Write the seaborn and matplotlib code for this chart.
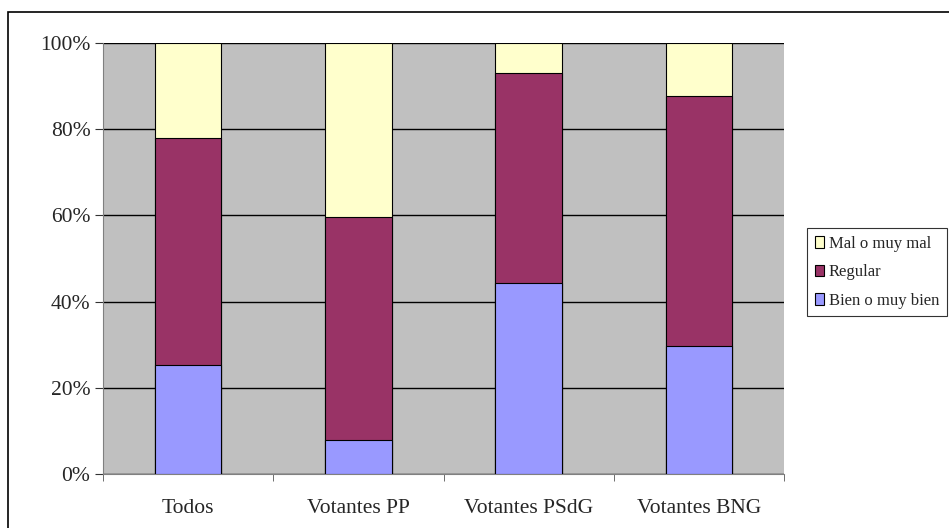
import matplotlib
matplotlib.use('Agg')
import matplotlib.pyplot as plt
import seaborn as sns
import pandas as pd
import numpy as np
from matplotlib.patches import Rectangle, Patch
from matplotlib.ticker import FixedLocator

grupos = ['Todos', 'Votantes PP', 'Votantes PSdG', 'Votantes BNG']
bien = [25.3, 7.8, 44.2, 29.8]
regular = [52.6, 51.9, 48.8, 57.9]
mal = [22.1, 40.3, 7.0, 12.3]

colores = {'Bien o muy bien': '#9999FF', 'Regular': '#993366', 'Mal o muy mal': '#FFFFCC'}

df = pd.DataFrame({'grupo': grupos, 'bien': bien, 'regular': regular, 'mal': mal})
df['c1'] = df['bien']
df['c2'] = df['bien'] + df['regular']
df['c3'] = df['c2'] + df['mal']

sns.set_style('white')
plt.rcParams['font.family'] = ['Liberation Serif', 'DejaVu Serif']

fig = plt.figure(figsize=(9.49, 5.28), dpi=100)
ax = fig.add_axes([103 / 949, 1 - 474 / 528, (784 - 103) / 949, (474 - 43) / 528])
ax.set_facecolor('#C0C0C0')

# stacked bars drawn back to front
for col, lab in [('c3', 'Mal o muy mal'), ('c2', 'Regular'), ('c1', 'Bien o muy bien')]:
    sns.barplot(data=df, x='grupo', y=col, color=colores[lab], width=0.39,
                edgecolor='black', linewidth=0.8, saturation=1, ax=ax, zorder=3)

ax.set_ylim(0, 100)
ax.set_xlim(-0.5, 3.5)
ax.set_yticks([0, 20, 40, 60, 80, 100])
ax.set_yticklabels(['0%', '20%', '40%', '60%', '80%', '100%'], fontsize=15.5)
ax.yaxis.grid(True, color='black', linewidth=1, zorder=0)
ax.set_axisbelow(True)
ax.tick_params(axis='y', length=6, color='#333333', left=True, pad=3)
ax.tick_params(axis='x', which='major', length=0, labelsize=15.5, pad=18)
ax.xaxis.set_minor_locator(FixedLocator([-0.5, 0.5, 1.5, 2.5, 3.5]))
ax.tick_params(axis='x', which='minor', length=5, bottom=True, color='#555555')
ax.set_xlabel('')
ax.set_ylabel('')
for s in ax.spines.values():
    s.set_visible(False)
ax.spines['left'].set_visible(True)
ax.spines['left'].set_color('#808080')
ax.spines['bottom'].set_visible(True)
ax.spines['bottom'].set_color('#808080')

handles = [Patch(facecolor=colores[k], edgecolor='black', linewidth=0.8)
           for k in ['Mal o muy mal', 'Regular', 'Bien o muy bien']]
leg = fig.legend(handles, ['Mal o muy mal', 'Regular', 'Bien o muy bien'],
                 loc='upper left', bbox_to_anchor=(799 / 949, 1 - 220 / 528),
                 frameon=True, fancybox=False, fontsize=12, handlelength=0.55,
                 handleheight=0.7, handletextpad=0.3, borderpad=0.45, labelspacing=0.75)
leg.get_frame().set_edgecolor('black')
leg.get_frame().set_linewidth(0.8)

fig.patches.append(Rectangle((8 / 949, -0.1), 1.2, 1 - 12 / 528 + 0.1,
                             transform=fig.transFigure, fill=False,
                             edgecolor='black', linewidth=1.2))

fig.savefig('out.png', dpi=100)
